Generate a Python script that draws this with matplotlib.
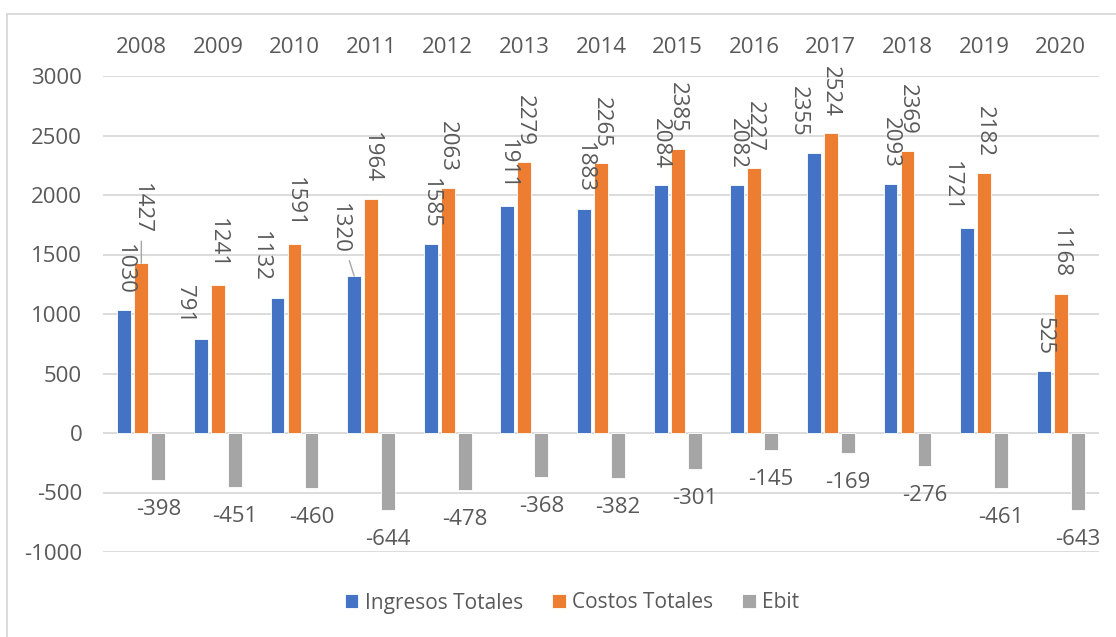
import numpy as np
import matplotlib.pyplot as plt
from matplotlib.lines import Line2D

# data
years = ['2008', '2009', '2010', '2011', '2012', '2013', '2014',
         '2015', '2016', '2017', '2018', '2019', '2020']
ingresos = [1030, 791, 1132, 1320, 1585, 1911, 1883, 2084, 2082, 2355, 2093, 1721, 525]
costos = [1427, 1241, 1591, 1964, 2063, 2279, 2265, 2385, 2227, 2524, 2369, 2182, 1168]
ebit = [-398, -451, -460, -644, -478, -368, -382, -301, -145, -169, -276, -461, -643]
series_names = ['Ingresos Totales', 'Costos Totales', 'Ebit']

colors = ['#4472C4', '#ED7D31', '#A5A5A5']
txt_color = '#595959'
grid_color = '#D9D9D9'
fs = 16

# label nudges in pixels (dx, extra dy, leader line) - Excel moved a few labels
nudges = {
    (0, 1): (-16, 0, False),
    (0, 2): (-17, 0, False),
    (0, 3): (-15, 6, True),
    (0, 9): (-15, 0, False),
    (0, 11): (-16, 0, False),
    (1, 0): (0, 13, True),
}

plt.rcParams['font.family'] = ['Open Sans', 'DejaVu Sans']
plt.rcParams['font.size'] = fs
plt.rcParams['axes.unicode_minus'] = False

W, H = 1116, 637
fig = plt.figure(figsize=(W / 100, H / 100), dpi=100)
ax = fig.add_axes([103 / W, 1 - 552 / H, (1099 - 103) / W, (552 - 76) / H])

x = np.arange(len(years))
width = 0.18
step = 0.222
px2pt = 72 / 100

bars = []
for i, vals in enumerate([ingresos, costos, ebit]):
    b = ax.bar(x + (i - 1) * step, vals, width, color=colors[i],
               edgecolor='white', linewidth=0.6, label=series_names[i], zorder=3)
    bars.append(b)

    for j, v in enumerate(vals):
        xc = x[j] + (i - 1) * step
        dx, dy, leader = nudges.get((i, j), (0, 0, False))
        if v >= 0:
            kw = dict(rotation=270, ha='center', va='bottom')
            off = (dx * px2pt, (16 + dy) * px2pt)
        else:
            kw = dict(rotation=0, ha='center', va='top')
            off = (dx * px2pt, -19 * px2pt)
        ap = None
        if leader:
            ap = dict(arrowstyle='-', color='#A6A6A6', lw=1, shrinkA=3, shrinkB=0)
        ax.annotate(str(v), (xc, v), xytext=off, textcoords='offset points',
                    color=txt_color, fontsize=fs, arrowprops=ap, zorder=4, **kw)

ax.set_ylim(-1000, 3000)
ax.set_xlim(-0.5, len(years) - 0.5)
ax.set_yticks(np.arange(-1000, 3001, 500))
ax.set_xticks(x)
ax.set_xticklabels(years)
ax.xaxis.set_ticks_position('top')
ax.tick_params(axis='x', length=0, pad=13, colors=txt_color, labelsize=fs)
ax.tick_params(axis='y', length=0, pad=15, colors=txt_color, labelsize=fs)
ax.grid(axis='y', color=grid_color, linewidth=1.3, zorder=0)
ax.set_axisbelow(True)
for s in ax.spines.values():
    s.set_visible(False)

# chart area border (top and left visible in the reference)
fig.add_artist(Line2D([7 / W, 7 / W], [0, 1 - 14 / H], transform=fig.transFigure,
                      color=grid_color, lw=1.3))
fig.add_artist(Line2D([7 / W, 1], [1 - 14 / H, 1 - 14 / H], transform=fig.transFigure,
                      color=grid_color, lw=1.3))

fig.legend(handles=bars, labels=series_names, loc='center', ncol=3,
           bbox_to_anchor=(572 / W, 1 - 603 / H), frameon=False,
           handlelength=0.65, handleheight=0.65, handletextpad=0.3,
           columnspacing=1.4, labelcolor=txt_color, fontsize=15)

fig.savefig('out.png', dpi=100)
